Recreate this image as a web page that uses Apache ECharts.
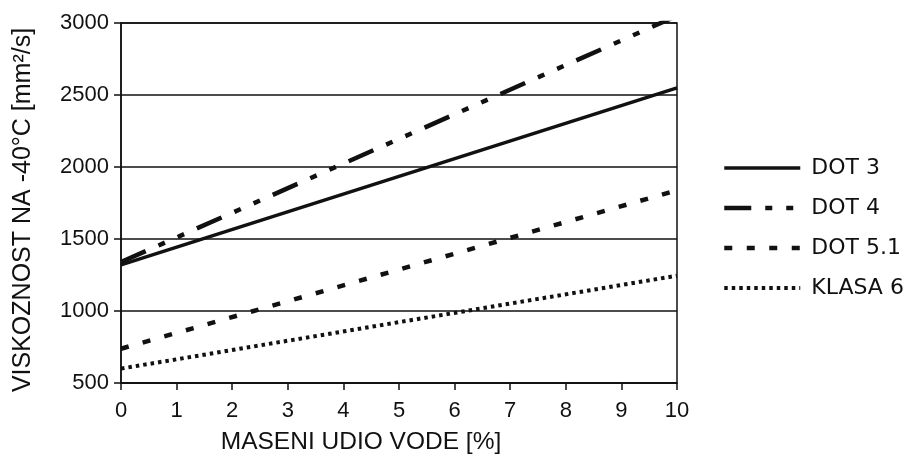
<!DOCTYPE html>
<html>
<head>
<meta charset="utf-8">
<title>Viskoznost kočionih tekućina</title>
<script src="https://cdn.jsdelivr.net/npm/echarts@6/dist/echarts.min.js"></script>
<style>
  html, body { margin: 0; padding: 0; background: #fff; }
  #chart { width: 905px; height: 456px; }
</style>
</head>
<body>
<div id="chart"></div>
<script>
// maseni udio vode [%]
const waterPct = [0, 10];
// viskoznost na -40°C [mm²/s], ocitano sa slike
const dot3 = [1320, 2550];
const dot4 = [1340, 3050];   // ide iznad 3000, odrezano na rubu grafa
const dot51 = [738, 1838];
const klasa6 = [600, 1245];
const seriesNames = ['DOT 3', 'DOT 4', 'DOT 5.1', 'KLASA 6'];

function pairs (ys) {
  return waterPct.map((x, i) => [x, ys[i]]);
}

const ink = '#111';
// stilovi linija (isti u legendi i na grafu)
const styles = [
  { color: ink, width: 3.5, type: 'solid' },
  { color: ink, width: 4.5, type: [27, 14, 7, 14, 7, 14], cap: 'butt' },
  { color: ink, width: 4.5, type: [8, 14.5], cap: 'butt' },
  { color: ink, width: 4, type: [3.5, 4], cap: 'butt' }
];

const chart = echarts.init(document.getElementById('chart'), null, { renderer: 'canvas' });

const option = {
  animation: false,
  backgroundColor: '#fff',
  color: [ink, ink, ink, ink],
  grid: {
    left: 121,
    right: 228,
    top: 23,
    bottom: 73,
    outerBoundsMode: 'none',
    show: true,
    borderColor: ink,
    borderWidth: 1.5
  },
  legend: {
    orient: 'vertical',
    left: 722,
    top: 157,
    padding: 0,
    itemWidth: 76,
    itemHeight: 14,
    itemGap: 18,
    itemStyle: { opacity: 0 },
    textStyle: {
      fontFamily: 'DejaVu Sans',
      fontSize: 22,
      color: ink,
      padding: [0, 0, 0, 6]
    },
    data: seriesNames.map((n, i) => ({ name: n, lineStyle: styles[i] }))
  },
  xAxis: {
    type: 'value',
    min: 0,
    max: 10,
    interval: 1,
    name: 'MASENI UDIO VODE [%]',
    nameLocation: 'middle',
    nameGap: 47,
    nameTextStyle: {
      fontFamily: 'Liberation Sans',
      fontSize: 24.5,
      color: ink,
      padding: [0, 76, 0, 0]
    },
    axisLine: { show: true, lineStyle: { color: ink, width: 1.5 } },
    axisTick: { show: true, length: 7, inside: false, lineStyle: { color: ink, width: 1.5 } },
    axisLabel: {
      margin: 17,
      fontFamily: 'Liberation Sans',
      fontSize: 22,
      color: ink
    },
    splitLine: { show: false }
  },
  yAxis: {
    type: 'value',
    min: 500,
    max: 3000,
    interval: 500,
    name: 'VISKOZNOST NA -40°C [mm²/s]',
    nameLocation: 'middle',
    nameGap: 85,
    nameTextStyle: {
      fontFamily: 'Liberation Sans',
      fontSize: 25,
      color: ink,
      padding: [0, 14, 0, 0]
    },
    axisLine: { show: true, lineStyle: { color: ink, width: 1.5 } },
    axisTick: { show: true, length: 7, lineStyle: { color: ink, width: 1.5 } },
    axisLabel: {
      margin: 12,
      fontFamily: 'Liberation Sans',
      fontSize: 22,
      color: ink,
      formatter: v => String(v)
    },
    splitLine: { show: true, lineStyle: { color: ink, width: 1.5 } }
  },
  series: [
    { name: seriesNames[0], type: 'line', symbol: 'none', data: pairs(dot3), lineStyle: styles[0] },
    { name: seriesNames[1], type: 'line', symbol: 'none', data: pairs(dot4), lineStyle: styles[1] },
    { name: seriesNames[2], type: 'line', symbol: 'none', data: pairs(dot51), lineStyle: styles[2] },
    { name: seriesNames[3], type: 'line', symbol: 'none', data: pairs(klasa6), lineStyle: styles[3] }
  ]
};

chart.setOption(option);
</script>
</body>
</html>
